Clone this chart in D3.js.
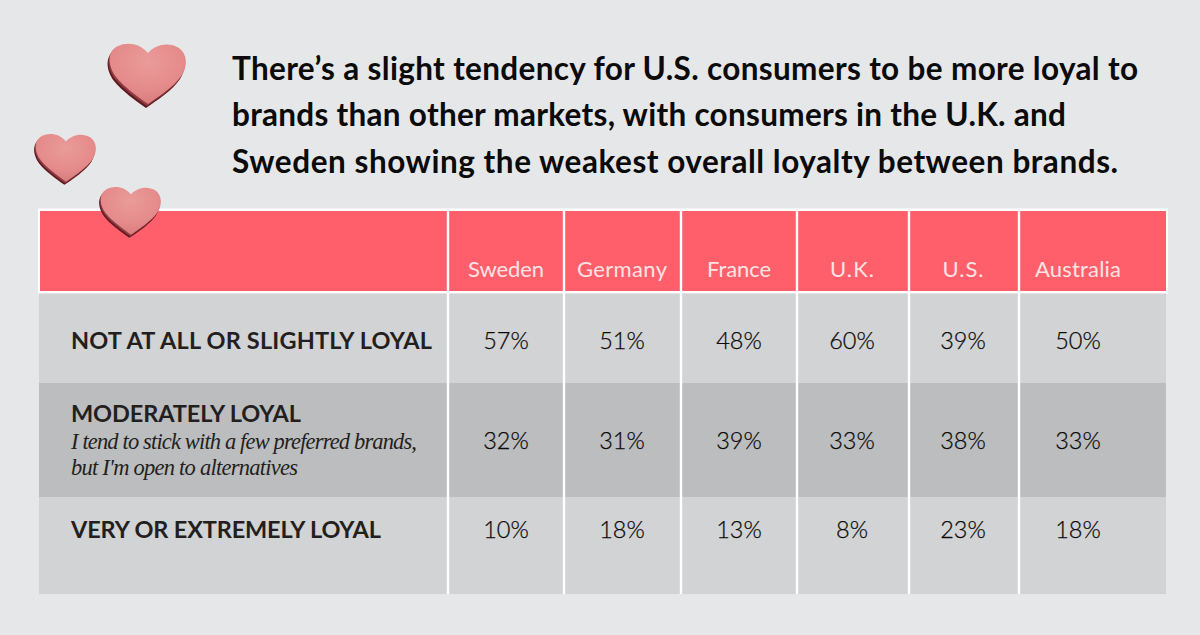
<!DOCTYPE html>
<html><head><meta charset="utf-8">
<script src="https://cdn.jsdelivr.net/npm/d3@7"></script>
<style>html,body{margin:0;padding:0;background:#e6e7e8;overflow:hidden}svg{display:block}</style>
</head><body><svg id="c" width="1200" height="635"></svg>
<script>
const titleLines = ["There’s a slight tendency for U.S. consumers to be more loyal to","brands than other markets, with consumers in the U.K. and","Sweden showing the weakest overall loyalty between brands."];
const markets = ["Sweden","Germany","France","U.K.","U.S.","Australia"];
const rowLabels = ["NOT AT ALL OR SLIGHTLY LOYAL","MODERATELY LOYAL","VERY OR EXTREMELY LOYAL"];
const rowNote = ["I tend to stick with a few preferred brands,","but I'm open to alternatives"];
const notLoyal = [57,51,48,60,39,50];
const moderately = [32,31,39,33,38,33];
const veryLoyal = [10,18,13,8,23,18];
const series = [notLoyal, moderately, veryLoyal];

const svg = d3.select("#c");
const FONT = "Lato, 'Open Sans', sans-serif";
const colEdges = [448,564,681,797,909,1019];
const x0 = d3.scaleOrdinal().domain(markets).range(colEdges);
const xc = d3.scaleOrdinal().domain(markets).range([506,622,739,852,963,1078]);
const rowY = d3.scaleOrdinal().domain(rowLabels).range([293,383,497]);
const rowH = d3.scaleOrdinal().domain(rowLabels).range([90,114,97]);
const rowFill = d3.scaleOrdinal().domain(rowLabels).range(["#d1d3d4","#bbbdbf","#d1d3d4"]);
const textY = d3.scaleOrdinal().domain(rowLabels).range([349,449,538]);
const labelY = d3.scaleOrdinal().domain(rowLabels).range([349,422,538]);

// table frame
svg.append("rect").attr("x",38).attr("y",208.5).attr("width",1130).attr("height",85).attr("fill","#fff");
svg.append("rect").attr("x",40).attr("y",211).attr("width",1126).attr("height",80).attr("fill","#ff5f6b");

// row bands
svg.selectAll("rect.row").data(rowLabels).join("rect").attr("class","row")
  .attr("x",39).attr("width",1127).attr("y",d=>rowY(d)).attr("height",d=>rowH(d)).attr("fill",d=>rowFill(d));

// column separators
svg.selectAll("line.sep").data(markets).join("line").attr("class","sep")
  .attr("x1",d=>x0(d)).attr("x2",d=>x0(d)).attr("y1",209).attr("y2",594)
  .attr("stroke","#fff").attr("stroke-width",2.4);
svg.append("rect").attr("x",38).attr("y",291).attr("width",1130).attr("height",2.4).attr("fill","#fff");
svg.append("rect").attr("x",1166).attr("y",209).attr("width",2).attr("height",84).attr("fill","#fff");

// title
svg.selectAll("text.title").data(titleLines).join("text").attr("class","title")
  .attr("x",232).attr("y",(d,i)=>[80,126,173][i]).text(d=>d)
  .attr("font-family",FONT).attr("font-weight",700).attr("font-size",31.5)
  .attr("fill","#0b0b0b").attr("textLength",(d,i)=>[906,834,886][i]).attr("lengthAdjust","spacing");

// header
svg.selectAll("text.head").data(markets).join("text").attr("class","head")
  .attr("x",d=>xc(d)).attr("y",277).attr("text-anchor","middle").text(d=>d)
  .attr("font-family",FONT).attr("font-weight",400).attr("font-size",22).attr("fill","#fde4e4")
  .attr("textLength",(d,i)=>[76,90,64,44,41,86][i]).attr("lengthAdjust","spacing");

// row labels
svg.selectAll("text.rl").data(rowLabels).join("text").attr("class","rl")
  .attr("x",71).attr("y",d=>labelY(d)).text(d=>d)
  .attr("font-family",FONT).attr("font-weight",700).attr("font-size",23.5)
  .attr("fill","#231f20").attr("textLength",(d,i)=>[361,230,310][i]).attr("lengthAdjust","spacing");
svg.selectAll("text.note").data(rowNote).join("text").attr("class","note")
  .attr("x",71).attr("y",(d,i)=>[449,475][i]).text(d=>d)
  .attr("font-family","'Liberation Serif',serif").attr("font-style","italic").attr("font-size",22.5)
  .attr("fill","#231f20").attr("textLength",(d,i)=>[346,227][i]).attr("lengthAdjust","spacing");

// values
rowLabels.forEach((r,ri)=>{
  svg.selectAll("text.v"+ri).data(series[ri]).join("text").attr("class","v"+ri)
    .attr("x",(d,i)=>xc(markets[i])).attr("y",textY(r)).attr("text-anchor","middle")
    .text(d=>d+"%").attr("font-family",FONT).attr("font-weight",300).attr("font-size",23.5)
    .attr("fill","#0d0a0a").attr("stroke","#0d0a0a").attr("stroke-width",0.25);
});

// hearts (decoration)
const defs = svg.append("defs");
const g = defs.append("radialGradient").attr("id","hg").attr("cx","50%").attr("cy","30%").attr("r","75%");
g.append("stop").attr("offset","0%").attr("stop-color","#e99c9a");
g.append("stop").attr("offset","60%").attr("stop-color","#e58b8b");
g.append("stop").attr("offset","100%").attr("stop-color","#d67a7c");
const heartPath = "M0,-21 C-8,-31 -22,-33 -32,-27 C-41,-21 -40,-8 -32,3 C-24,13 -10,23 0,30 C10,23 27,12 34,1 C40,-9 39,-20 31,-26 C21,-32 8,-30 0,-21 Z";
const hearts = [[148,74,1],[66,158,0.79],[131,211,0.79]];
hearts.forEach(([x,y,s])=>{
  const h = svg.append("g").attr("transform",`translate(${x},${y}) scale(${s})`);
  h.append("path").attr("d",heartPath).attr("transform","translate(-2,4)").attr("fill","#5e1a20");
  h.append("path").attr("d",heartPath).attr("transform","translate(-1,2)").attr("fill","#8e3a40");
  h.append("path").attr("d",heartPath).attr("fill","url(#hg)");
});
</script></body></html>
